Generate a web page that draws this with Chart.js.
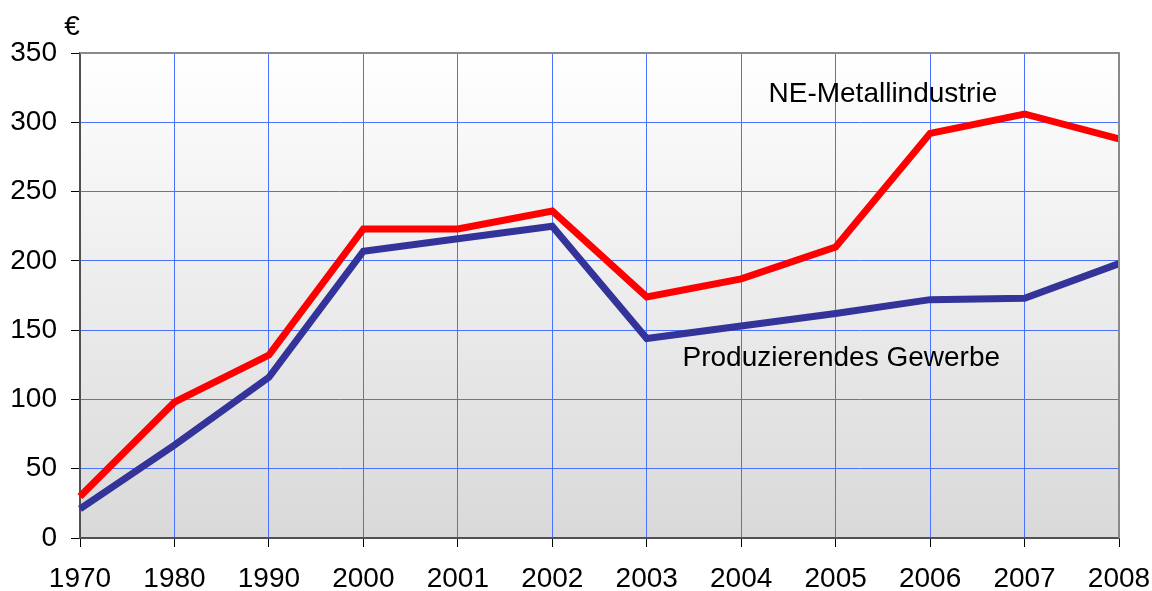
<!DOCTYPE html>
<html>
<head>
<meta charset="utf-8">
<script src="https://cdn.jsdelivr.net/npm/chart.js@4/dist/chart.umd.min.js"></script>
<style>
  html, body { margin: 0; padding: 0; background: #fff; }
  canvas { display: block; }
</style>
</head>
<body>
<canvas id="chart" width="1152" height="591"></canvas>
<script>
// Daten
const years = ['1970', '1980', '1990', '2000', '2001', '2002', '2003', '2004', '2005', '2006', '2007', '2008'];
const neMetall = [30, 98, 132, 223, 223, 236, 174, 187, 210, 292, 306, 288];
const produzierend = [21, 67, 116, 207, 216, 225, 144, 153, 162, 172, 173, 198];
const yTicks = [0, 50, 100, 150, 200, 250, 300, 350];

const font = { family: '"Liberation Sans", Arial, sans-serif', size: 28 };

// Hintergrund mit Verlauf im Plotbereich
const plotBackground = {
    id: 'plotBackground',
    beforeDraw(chart) {
        const { ctx, chartArea: a } = chart;
        const g = ctx.createLinearGradient(0, a.top, 0, a.bottom);
        g.addColorStop(0, '#ffffff');
        g.addColorStop(1, '#d9d9d9');
        ctx.save();
        ctx.fillStyle = g;
        ctx.fillRect(a.left, a.top, a.right - a.left, a.bottom - a.top);
        ctx.restore();
    },
    afterDatasetsDraw(chart) {
        const { ctx, chartArea: a, scales } = chart;
        ctx.save();
        // Rahmen oben und rechts
        ctx.strokeStyle = '#8a8a8a';
        ctx.lineWidth = 2;
        ctx.beginPath();
        ctx.moveTo(a.left, a.top);
        ctx.lineTo(a.right, a.top);
        ctx.lineTo(a.right, a.bottom);
        ctx.stroke();

        // Beschriftungen
        ctx.fillStyle = '#000';
        ctx.font = `${font.size}px ${font.family}`;
        ctx.textAlign = 'center';
        ctx.textBaseline = 'middle';
        ctx.fillText('NE-Metallindustrie', scales.x.getPixelForValue(8.5), scales.y.getPixelForValue(320));
        ctx.fillText('Produzierendes Gewerbe', scales.x.getPixelForValue(8.06), scales.y.getPixelForValue(130));
        ctx.fillText('€', a.left - 8, a.top - 26);
        ctx.restore();
    }
};

new Chart(document.getElementById('chart'), {
    type: 'line',
    data: {
        labels: years,
        datasets: [
            {
                label: 'NE-Metallindustrie',
                data: neMetall,
                borderColor: '#ff0000',
                borderWidth: 7,
                pointRadius: 0,
                tension: 0,
                borderJoinStyle: 'miter'
            },
            {
                label: 'Produzierendes Gewerbe',
                data: produzierend,
                borderColor: '#333399',
                borderWidth: 7,
                pointRadius: 0,
                tension: 0,
                borderJoinStyle: 'miter'
            }
        ]
    },
    options: {
        responsive: false,
        animation: false,
        layout: {
            padding: { top: 53, right: 33, left: 0, bottom: 0 }
        },
        plugins: {
            legend: { display: false },
            tooltip: { enabled: false }
        },
        scales: {
            x: {
                offset: false,
                afterFit: s => {
                    s.height = 53;
                    s.paddingLeft = 0;
                    s.paddingRight = 0;
                },
                grid: {
                    color: '#4a72ff',
                    lineWidth: 1,
                    tickLength: 9,
                    tickColor: '#000'
                },
                border: { color: '#505050', width: 2 },
                ticks: {
                    color: '#000',
                    font: font,
                    padding: 15,
                    maxRotation: 0,
                    autoSkip: false
                }
            },
            y: {
                min: 0,
                max: 350,
                afterFit: s => {
                    s.width = 80;
                    s.paddingTop = 0;
                    s.paddingBottom = 0;
                },
                afterBuildTicks: s => { s.ticks = yTicks.map(v => ({ value: v })); },
                grid: {
                    color: '#4a72ff',
                    lineWidth: 1,
                    tickLength: 9,
                    tickColor: '#000'
                },
                border: { color: '#505050', width: 2 },
                ticks: {
                    color: '#000',
                    font: font,
                    padding: 14
                }
            }
        }
    },
    plugins: [plotBackground]
});
</script>
</body>
</html>
